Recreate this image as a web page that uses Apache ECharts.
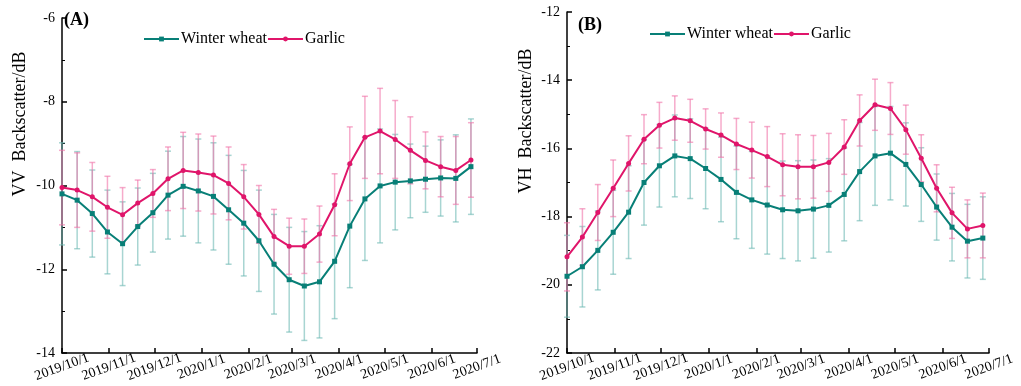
<!DOCTYPE html>
<html><head><meta charset="utf-8">
<script src="https://cdn.jsdelivr.net/npm/echarts@6/dist/echarts.min.js"></script>
<style>html,body{margin:0;padding:0;background:#fff}#c{width:1021px;height:386px}</style>
</head><body><div id="c"></div>
<script>
const dates = ['2019-10-01','2019-10-11','2019-10-21','2019-10-31','2019-11-10','2019-11-20','2019-11-30',
'2019-12-10','2019-12-20','2019-12-30','2020-01-09','2020-01-19','2020-01-29','2020-02-08','2020-02-18',
'2020-02-28','2020-03-09','2020-03-19','2020-03-29','2020-04-08','2020-04-18','2020-04-28','2020-05-08',
'2020-05-18','2020-05-28','2020-06-07','2020-06-17','2020-06-27'];
const seriesNames = ['Winter wheat','Garlic'];
// VV (panel A)
const vvWheat = [-10.20,-10.35,-10.67,-11.11,-11.39,-10.98,-10.65,-10.23,-10.02,-10.13,-10.26,-10.58,-10.90,-11.32,
-11.88,-12.25,-12.40,-12.30,-11.81,-10.97,-10.32,-10.01,-9.92,-9.89,-9.85,-9.82,-9.83,-9.55];
const vvWheatSd = [1.22,1.16,1.04,1.00,1.00,0.92,0.94,1.05,1.19,1.24,1.28,1.30,1.26,1.21,1.19,1.25,1.30,1.34,1.37,
1.47,1.47,1.36,1.14,0.88,0.79,0.91,1.04,1.14];
const vvGarlic = [-10.05,-10.11,-10.27,-10.52,-10.70,-10.42,-10.19,-9.84,-9.64,-9.69,-9.75,-9.95,-10.27,-10.69,
-11.22,-11.45,-11.45,-11.16,-10.46,-9.48,-8.85,-8.70,-8.90,-9.16,-9.40,-9.55,-9.64,-9.39];
const vvGarlicSd = [0.89,0.89,0.82,0.74,0.65,0.55,0.57,0.76,0.91,0.92,0.93,0.87,0.77,0.69,0.65,0.67,0.65,0.67,0.74,
0.88,0.98,1.02,0.93,0.80,0.68,0.72,0.81,0.89];
// VH (panel B)
const vhWheat = [-19.75,-19.47,-18.99,-18.46,-17.87,-17.00,-16.51,-16.22,-16.30,-16.59,-16.91,-17.29,-17.51,-17.66,
-17.80,-17.83,-17.78,-17.67,-17.35,-16.68,-16.22,-16.14,-16.47,-17.06,-17.72,-18.31,-18.72,-18.63];
const vhWheatSd = [1.20,1.18,1.16,1.23,1.36,1.25,1.21,1.20,1.17,1.18,1.24,1.36,1.42,1.44,1.43,1.47,1.44,1.37,1.36,
1.44,1.45,1.37,1.22,1.08,0.97,0.99,1.08,1.21];
const vhGarlic = [-19.18,-18.60,-17.88,-17.17,-16.44,-15.73,-15.32,-15.11,-15.19,-15.43,-15.61,-15.87,-16.05,-16.24,
-16.48,-16.54,-16.54,-16.41,-15.96,-15.18,-14.72,-14.83,-15.45,-16.29,-17.17,-17.89,-18.36,-18.26];
const vhGarlicSd = [1.00,0.83,0.82,0.83,0.81,0.72,0.67,0.65,0.63,0.59,0.65,0.75,0.82,0.88,0.91,0.94,0.92,0.85,0.80,
0.75,0.75,0.76,0.72,0.69,0.69,0.75,0.85,0.95];
const xMin = '2019-10-01', xMax = '2020-07-01';
const vvTicks = {min:-14, max:-6, interval:2};
const vhTicks = {min:-22, max:-12, interval:2};

const C_W = '#087f77', C_G = '#e0156a';
const C_WE = 'rgba(110,185,180,0.6)', C_GE = 'rgba(240,115,168,0.6)';
const FONT = '"Liberation Serif", "Times New Roman", serif';

function pairs(v){ return dates.map((d,i)=>[d, v[i]]); }
function errs(v, s){ return dates.map((d,i)=>[d, v[i]-s[i], v[i]+s[i]]); }
function errRender(color){
  return function(params, api){
    const x = api.value(0);
    const lo = api.coord([x, api.value(1)]);
    const hi = api.coord([x, api.value(2)]);
    const w = 3;
    const st = {stroke: color, lineWidth: 1.5};
    return {type:'group', children:[
      {type:'line', shape:{x1:lo[0],y1:lo[1],x2:hi[0],y2:hi[1]}, style:st},
      {type:'line', shape:{x1:lo[0]-w,y1:lo[1],x2:lo[0]+w,y2:lo[1]}, style:st},
      {type:'line', shape:{x1:hi[0]-w,y1:hi[1],x2:hi[0]+w,y2:hi[1]}, style:st}
    ]};
  };
}
function fmtDate(v){ const d = new Date(v); return d.getFullYear()+'/'+(d.getMonth()+1)+'/'+d.getDate(); }

function xAxis(gi){
  return {type:'time', gridIndex:gi, min:xMin, max:xMax, splitNumber:9,
    minInterval: 28*86400000, maxInterval: 31*86400000,
    axisLine:{lineStyle:{color:'#000', width:1.5}},
    axisTick:{inside:true, length:5, lineStyle:{color:'#000', width:1.5}},
    minorTick:{show:false}, splitLine:{show:false},
    axisLabel:{rotate:20, align:'center', verticalAlign:'middle', margin:14, color:'#000',
      fontFamily:FONT, fontSize:14, showMinLabel:true, showMaxLabel:true, hideOverlap:false, formatter: fmtDate}};
}
function yAxis(gi, t){
  return {type:'value', gridIndex:gi, min:t.min, max:t.max, interval:t.interval,
    axisLine:{show:true, lineStyle:{color:'#000', width:1.5}},
    axisTick:{show:true, inside:true, length:5, lineStyle:{color:'#000', width:1.5}},
    minorTick:{show:true, splitNumber:2, length:3, lineStyle:{color:'#000', width:1}},
    splitLine:{show:false},
    axisLabel:{color:'#000', fontFamily:FONT, fontSize:14, margin:7}};
}
function lineSeries(name, gi, v, color, symbol){
  return {name, type:'line', xAxisIndex:gi, yAxisIndex:gi, data:pairs(v), color,
    symbol, symbolSize:5, showSymbol:true, lineStyle:{width:2, color}, itemStyle:{color}, z:5, animation:false};
}
function errSeries(name, gi, v, s, color){
  return {name, type:'custom', xAxisIndex:gi, yAxisIndex:gi, data:errs(v, s), renderItem:errRender(color),
    color, encode:{x:0, y:[1,2]}, z:2, animation:false, silent:true};
}

const chart = echarts.init(document.getElementById('c'), null, {renderer:'canvas'});
chart.setOption({
  backgroundColor:'#fff',
  animation:false,
  textStyle:{fontFamily:FONT},
  grid:[{left:62, right:544, top:18, bottom:33},{left:567, right:32, top:12, bottom:33}],
  xAxis:[xAxis(0), xAxis(1)],
  yAxis:[yAxis(0, vvTicks), yAxis(1, vhTicks)],
  legend:[
    {data:seriesNames, left:138, top:26, itemWidth:35, itemHeight:6, itemGap:0, textStyle:{fontFamily:FONT, fontSize:16, color:'#000', padding:[0,0,0,-3]}},
    {data:seriesNames, left:644, top:21, itemWidth:35, itemHeight:6, itemGap:0, textStyle:{fontFamily:FONT, fontSize:16, color:'#000', padding:[0,0,0,-3]}}
  ],
  graphic:[
    {type:'text', left:64, top:11, style:{text:'(A)', font:'bold 18px '+FONT, fill:'#000'}},
    {type:'text', left:578, top:16, style:{text:'(B)', font:'bold 18px '+FONT, fill:'#000'}},
    {type:'text', x:20, y:124, rotation:Math.PI/2, style:{text:'VV  Backscatter/dB', font:'18px '+FONT, fill:'#000', align:'center', verticalAlign:'middle'}},
    {type:'text', x:526, y:121, rotation:Math.PI/2, style:{text:'VH  Backscatter/dB', font:'18px '+FONT, fill:'#000', align:'center', verticalAlign:'middle'}}
  ],
  series:[
    lineSeries('Winter wheat', 0, vvWheat, C_W, 'rect'),
    lineSeries('Garlic', 0, vvGarlic, C_G, 'circle'),
    lineSeries('Winter wheat', 1, vhWheat, C_W, 'rect'),
    lineSeries('Garlic', 1, vhGarlic, C_G, 'circle'),
    errSeries('Winter wheat', 0, vvWheat, vvWheatSd, C_WE),
    errSeries('Garlic', 0, vvGarlic, vvGarlicSd, C_GE),
    errSeries('Winter wheat', 1, vhWheat, vhWheatSd, C_WE),
    errSeries('Garlic', 1, vhGarlic, vhGarlicSd, C_GE)
  ]
});
</script></body></html>
